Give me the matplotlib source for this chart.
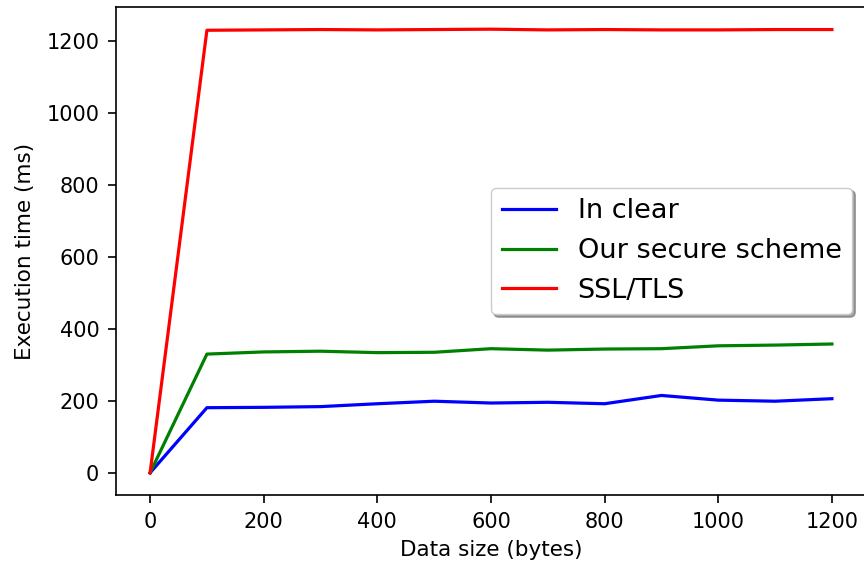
import matplotlib
matplotlib.use("Agg")
import matplotlib.pyplot as plt

# Data size (bytes)
sizes = [0, 100, 200, 300, 400, 500, 600, 700, 800, 900, 1000, 1100, 1200]

# Execution times (ms)
in_clear = [0, 181, 182, 184, 192, 199, 194, 196, 192, 215, 202, 199, 206]
secure_scheme = [0, 330, 336, 338, 334, 335, 345, 341, 344, 345, 353, 355, 358]
ssl_tls = [0, 1230, 1231, 1232, 1231, 1232, 1233, 1231, 1232, 1231, 1231, 1232, 1232]

fig = plt.figure(figsize=(8.64, 5.64), dpi=100)
ax = fig.add_axes([116 / 864, 69 / 564, 750 / 864, 488 / 564])

ax.plot(sizes, in_clear, color="blue", lw=2.3, label="In clear")
ax.plot(sizes, secure_scheme, color="green", lw=2.3, label="Our secure scheme")
ax.plot(sizes, ssl_tls, color="red", lw=2.3, label="SSL/TLS")

ax.set_xticks(range(0, 1201, 200))
ax.set_yticks(range(0, 1201, 200))
ax.tick_params(labelsize=15, width=1.2, length=6, pad=6)
for s in ax.spines.values():
    s.set_linewidth(1.2)

ax.set_xlabel("Data size (bytes)", fontsize=15.5, labelpad=6)
ax.set_ylabel("Execution time (ms)", fontsize=15.5, labelpad=8)
ax.legend(loc="center right", fontsize=19.5, shadow=True, fancybox=True)

fig.savefig("out.png", dpi=100)
